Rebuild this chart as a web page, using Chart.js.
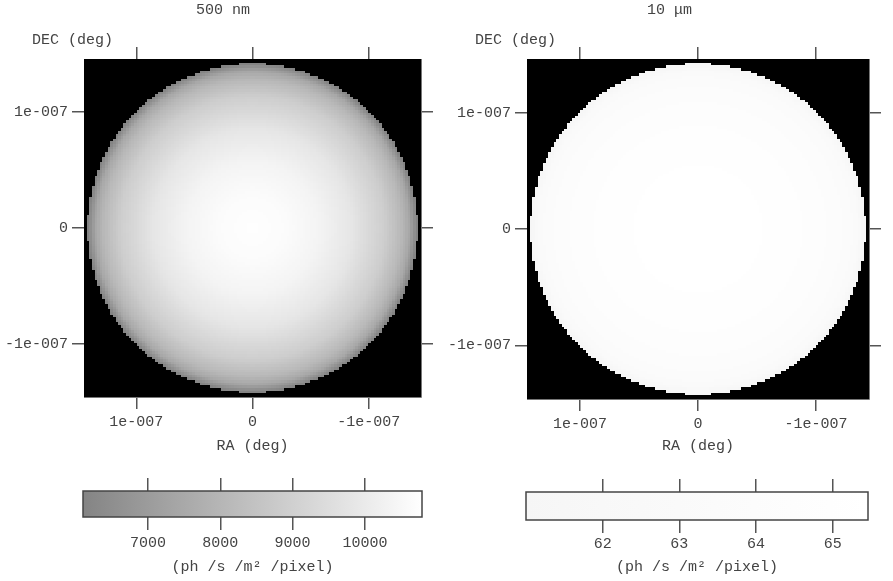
<!DOCTYPE html>
<html>
<head>
<meta charset="utf-8">
<script src="https://cdn.jsdelivr.net/npm/chart.js@4.4.1/dist/chart.umd.min.js"></script>
<style>
  body { margin: 0; background: #fff; width: 893px; height: 581px; position: relative; overflow: hidden; }
  canvas { position: absolute; }
</style>
</head>
<body>
<canvas id="img500" width="446" height="460" style="left:0;top:0"></canvas>
<canvas id="img10" width="447" height="460" style="left:446px;top:0"></canvas>
<canvas id="bar500" width="446" height="121" style="left:0;top:460px"></canvas>
<canvas id="bar10" width="447" height="121" style="left:446px;top:460px"></canvas>
<script>
// sky offsets, in units of 1e-7 deg
const raTicks = [1, 0, -1];
const decTicks = [1, 0, -1];
const tickLabels = { '1': '1e-007', '0': '0', '-1': '-1e-007' };
const fieldRA = [-1.45, 1.45];
const fieldDEC = [-1.46, 1.46];
const diskRadius = 1.42;

// radial brightness profile (r / R -> flux)
const profileR = [0, 0.2, 0.4, 0.6, 0.8, 0.9, 0.95, 1.0];
const flux500 = [10750, 10650, 10360, 9830, 8900, 8100, 7450, 6000];
const flux10 = [65.45, 65.4, 65.2, 64.8, 64.1, 63.5, 62.9, 61.05];

// colour bars
const range500 = [6100, 10790];
const range10 = [61.0, 65.46];
const cbarTicks500 = [7000, 8000, 9000, 10000];
const cbarTicks10 = [62, 63, 64, 65];

const FONT = { family: "'Liberation Mono', 'DejaVu Sans Mono', monospace", size: 15, lineHeight: 1.2, weight: 'normal' };
const INK = '#444';
const TICK = '#555';

function profileAt(r, flux) {
  for (let i = 1; i < profileR.length; i++) {
    if (r <= profileR[i]) {
      const t = (r - profileR[i - 1]) / (profileR[i] - profileR[i - 1]);
      return flux[i - 1] + t * (flux[i] - flux[i - 1]);
    }
  }
  return flux[flux.length - 1];
}

function grayOf(v, range, lo) {
  let t = (v - range[0]) / (range[1] - range[0]);
  t = Math.max(0, Math.min(1, t));
  const g = Math.round(lo + (255 - lo) * t);
  return `rgb(${g},${g},${g})`;
}

// paints the pixelated disk image into the plot area
const diskPlugin = {
  id: 'disk',
  beforeDatasetsDraw(chart, args, opts) {
    const { ctx, chartArea: a, scales: { x, y } } = chart;
    ctx.save();
    ctx.beginPath();
    ctx.rect(a.left, a.top, a.width, a.height);
    ctx.clip();
    ctx.fillStyle = '#000';
    ctx.fillRect(a.left, a.top, a.width, a.height);
    const c = (fieldRA[1] - fieldRA[0]) / 128;
    const kx = Math.ceil(fieldRA[1] / c), ky = Math.ceil(fieldDEC[1] / c);
    for (let i = -kx; i < kx; i++) {
      const px0 = Math.round(x.getPixelForValue(i * c));
      const px1 = Math.round(x.getPixelForValue((i + 1) * c));
      for (let j = -ky; j < ky; j++) {
        const cx = (i + 0.5) * c, cy = (j + 0.5) * c;
        const r = Math.hypot(cx, cy) / diskRadius;
        if (r > 1) continue;
        const py0 = Math.round(y.getPixelForValue(j * c));
        const py1 = Math.round(y.getPixelForValue((j + 1) * c));
        ctx.fillStyle = grayOf(profileAt(r, opts.flux), opts.range, opts.lo);
        ctx.fillRect(Math.min(px0, px1), Math.min(py0, py1), Math.abs(px1 - px0), Math.abs(py1 - py0));
      }
    }
    ctx.restore();
  }
};

// free text label (DEC axis name sits above the plot)
const labelPlugin = {
  id: 'label',
  afterDraw(chart, args, opts) {
    if (!opts.text) return;
    const ctx = chart.ctx;
    ctx.save();
    ctx.font = `${FONT.size}px ${FONT.family}`;
    ctx.fillStyle = INK;
    ctx.textBaseline = 'middle';
    ctx.fillText(opts.text, opts.x, opts.y);
    ctx.restore();
  }
};

// colour bar gradient, laid over the middle of the grid lines so
// only the tick stubs above and below the bar stay visible
const cbarPlugin = {
  id: 'cbar',
  beforeDatasetsDraw(chart, args, opts) {
    if (!opts.range) return;
    const { ctx, chartArea: a, scales: { x } } = chart;
    const top = a.top + opts.inset, h = a.height - 2 * opts.inset;
    const x0 = x.getPixelForValue(opts.range[0]);
    const x1 = x.getPixelForValue(opts.range[1]);
    const g = ctx.createLinearGradient(x0, 0, x1, 0);
    g.addColorStop(0, grayOf(opts.range[0], opts.range, opts.lo));
    g.addColorStop(1, grayOf(opts.range[1], opts.range, opts.lo));
    ctx.save();
    ctx.fillStyle = g;
    ctx.fillRect(a.left, top, a.width, h);
    ctx.strokeStyle = '#444';
    ctx.lineWidth = 1.5;
    ctx.strokeRect(a.left, top, a.width, h);
    ctx.restore();
  }
};

function tickAxis(pos, values, opts) {
  const horiz = pos === 'top' || pos === 'bottom';
  return Object.assign({
    type: 'linear',
    axis: horiz ? 'x' : 'y',
    position: pos,
    afterBuildTicks: s => { s.ticks = values.map(v => ({ value: v })); },
    ticks: { display: false, font: FONT, color: INK, padding: 4, maxRotation: 0, autoSkip: false },
    grid: { drawOnChartArea: false, drawTicks: true, tickLength: 12, color: TICK, lineWidth: 1.5 },
    border: { display: true, color: '#777', width: 1 }
  }, opts);
}

function imagePanel(id, title, flux, range, lo, box) {
  const fix = (k, v) => s => { s[k] = v; };
  new Chart(document.getElementById(id), {
    type: 'scatter',
    data: { datasets: [{ data: [] }] },
    plugins: [diskPlugin, labelPlugin],
    options: {
      responsive: false,
      animation: false,
      events: [],
      layout: { padding: 0 },
      scales: {
        x: tickAxis('bottom', raTicks, {
          min: fieldRA[0], max: fieldRA[1], reverse: true,
          afterFit: fix('height', box.bottom),
          ticks: { display: true, font: FONT, color: INK, padding: 4, maxRotation: 0, autoSkip: false, callback: v => tickLabels[v] },
          title: { display: true, text: 'RA (deg)', font: FONT, color: INK, padding: { top: 0, bottom: 5 } }
        }),
        x2: tickAxis('top', raTicks, { min: fieldRA[0], max: fieldRA[1], reverse: true, afterFit: fix('height', box.top) }),
        y: tickAxis('left', decTicks, {
          min: fieldDEC[0], max: fieldDEC[1],
          afterFit: fix('width', box.left),
          ticks: { display: true, font: FONT, color: INK, padding: 4, autoSkip: false, callback: v => tickLabels[v] }
        }),
        y2: tickAxis('right', decTicks, { min: fieldDEC[0], max: fieldDEC[1], afterFit: fix('width', box.right) })
      },
      plugins: {
        legend: { display: false },
        tooltip: { enabled: false },
        title: { display: true, text: title, font: FONT, color: INK, padding: { top: 1, bottom: 0 } },
        disk: { flux: flux, range: range, lo: lo },
        label: { text: 'DEC (deg)', x: box.decX, y: 40 }
      }
    }
  });
}

function colorBar(id, range, values, lo, box) {
  const fix = (k, v) => s => { s[k] = v; };
  new Chart(document.getElementById(id), {
    type: 'scatter',
    data: { datasets: [{ data: [] }] },
    plugins: [cbarPlugin],
    options: {
      responsive: false,
      animation: false,
      events: [],
      layout: { padding: { left: box.left, right: box.right, top: 0, bottom: 0 } },
      scales: {
        x: tickAxis('bottom', values, {
          min: range[0], max: range[1],
          afterFit: fix('height', box.bottom),
          border: { display: false },
          grid: { drawOnChartArea: true, drawTicks: false, color: TICK, lineWidth: 1.5 },
          ticks: { display: true, font: FONT, color: INK, padding: box.pad, maxRotation: 0, autoSkip: false, callback: v => String(v) },
          title: { display: true, text: '(ph /s /m² /pixel)', font: FONT, color: INK, padding: { top: 0, bottom: 5 } }
        }),
        x2: tickAxis('top', values, {
          min: range[0], max: range[1],
          afterFit: fix('height', box.top),
          border: { display: false },
          grid: { display: false }
        }),
        y: { display: false, min: 0, max: 1 }
      },
      plugins: {
        legend: { display: false },
        tooltip: { enabled: false },
        cbar: { range: range, lo: lo, inset: box.inset }
      }
    }
  });
}

imagePanel('img500', '500 nm', flux500, range500, 132, { left: 84, right: 25, top: 40, bottom: 63, decX: 32 });
imagePanel('img10', '10 μm', flux10, range10, 246, { left: 81, right: 24, top: 40, bottom: 61, decX: 29 });
colorBar('bar500', range500, cbarTicks500, 132, { left: 83, right: 24, top: 18, bottom: 51, inset: 13, pad: 4 });
colorBar('bar10', range10, cbarTicks10, 246, { left: 80, right: 25, top: 19, bottom: 48, inset: 13, pad: 2 });
</script>
</body>
</html>
